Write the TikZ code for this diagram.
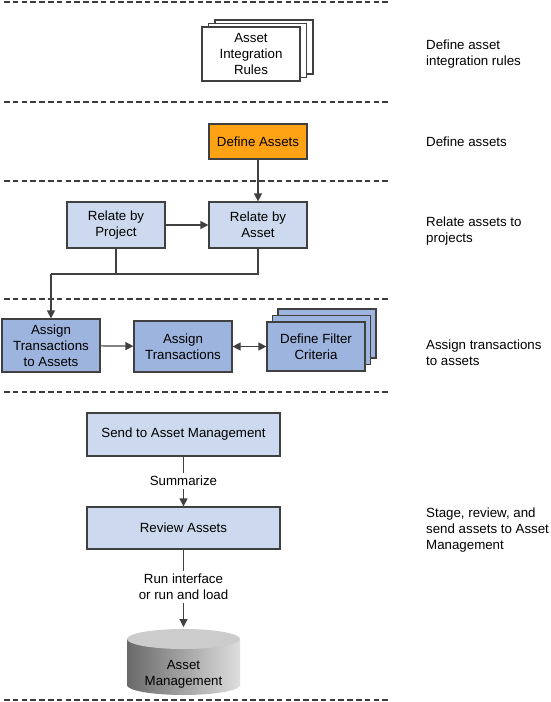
\documentclass[tikz,border=0pt]{standalone}
\usepackage{fontspec}
\setmainfont{Liberation Sans}
\usetikzlibrary{arrows.meta,positioning,shadows,calc}
\definecolor{linegray}{RGB}{64,64,64}
\definecolor{sepgray}{RGB}{60,60,60}
\definecolor{defineorange}{RGB}{255,162,20}
\definecolor{lightblue}{RGB}{204,217,238}
\definecolor{midblue}{RGB}{157,180,222}
\definecolor{cyldark}{RGB}{105,105,105}
\definecolor{cyllight}{RGB}{222,222,222}
\definecolor{cyltop}{RGB}{204,204,204}

\begin{document}
\begin{tikzpicture}[x=1pt,y=-1pt,
  font=\fontsize{13.3}{16}\selectfont,
  box/.style={draw=linegray, line width=1.2pt, minimum width=98pt, align=center, inner sep=2pt},
  stack/.style={copy shadow={shadow xshift=2*#1, shadow yshift=7pt, fill=white, draw=linegray, line width=1.2pt},
                copy shadow={shadow xshift=#1, shadow yshift=3.5pt, fill=white, draw=linegray, line width=1.2pt}},
  bluestack/.style={copy shadow={shadow xshift=11pt, shadow yshift=13pt, fill=midblue, draw=linegray, line width=1.2pt},
                copy shadow={shadow xshift=5.5pt, shadow yshift=6.5pt, fill=midblue, draw=linegray, line width=1.2pt}},
  link/.style={draw=linegray, line width=1.2pt},
  arr/.style={link, -{Triangle[length=8pt,width=8pt]}},
  sidetext/.style={anchor=west, align=left, inner sep=0pt}]
\useasboundingbox (0,0) rectangle (551,702);

% Separators
\foreach \y in {2,102,181,299,392,700}
  \draw[draw=sepgray, line width=1.2pt, dash pattern=on 5.5pt off 3.3pt] (4,\y) -- (388,\y);

% Define asset integration rules
\node[box, stack=6.5pt, fill=white, minimum height=54pt] (rules) at (251,54) {Asset\\Integration\\Rules};
\node[sidetext] (rulestxt) at (426,54) {Define asset\\integration rules};

% Define assets
\node[box, fill=defineorange, minimum height=35pt] (define) at (258,141.5) {Define Assets};
\node[sidetext] (definetxt) at (426,142) {Define assets};

% Relate assets to projects
\node[box, fill=lightblue, minimum height=46pt] (relproj) at (116,225) {Relate by\\Project};
\node[box, fill=lightblue, minimum height=46pt] (relasset) at (258,225) {Relate by\\Asset};
\node[sidetext] (relatetxt) at (426,231) {Relate assets to\\projects};

\draw[arr] (define) -- (relasset);
\draw[arr] (relproj) -- (relasset);

% Assign transactions to assets
\node[box, fill=midblue, minimum height=53pt] (assignta) at (51,345.5) {Assign\\Transactions\\to Assets};
\node[box, fill=midblue, minimum height=51pt] (assignt) at (183,346.5) {Assign\\Transactions};
\node[box, bluestack, fill=midblue, minimum height=49pt] (filter) at (316,346.5) {Define Filter\\Criteria};
\node[sidetext] (assigntxt) at (426,353) {Assign transactions\\to assets};

\coordinate (join) at (51,274);
\draw[link] (relasset.south) |- (join);
\draw[link] (relproj.south) -- (relproj.south |- join);
\draw[arr] (join) -- (assignta);
\draw[arr] (assignta) -- (assignt);
\draw[arr, {Triangle[length=8pt,width=8pt]}-{Triangle[length=8pt,width=8pt]}] (assignt) -- (filter);

% Stage, review, and send
\node[box, fill=lightblue, minimum width=193pt, minimum height=43pt] (send) at (183.5,434.5) {Send to Asset Management};
\node (summ) at (183.5,481) {Summarize};
\node[box, fill=lightblue, minimum width=193pt, minimum height=42pt] (review) at (183.5,528) {Review Assets};
\node[align=center] (runlbl) at (183.5,587) {Run interface\\or run and load};
\node[sidetext] (stagetxt) at (426,530) {Stage, review, and\\send assets to Asset\\Management};

% Asset Management cylinder
\shade[left color=cyldark, right color=cyllight] (183.5,685) ellipse[x radius=56.5pt, y radius=10pt];
\shade[left color=cyldark, right color=cyllight] (127,639) rectangle (240,685);
\fill[cyltop] (183.5,639) ellipse[x radius=56.5pt, y radius=10pt];
\node[align=center] (am) at (183.5,674) {Asset\\Management};
\coordinate (amtop) at (183.5,627);

\draw[link] (send) -- (summ);
\draw[arr] (summ) -- (review);
\draw[link] (review) -- (runlbl);
\draw[arr] (runlbl) -- (amtop);
\end{tikzpicture}
\end{document}
